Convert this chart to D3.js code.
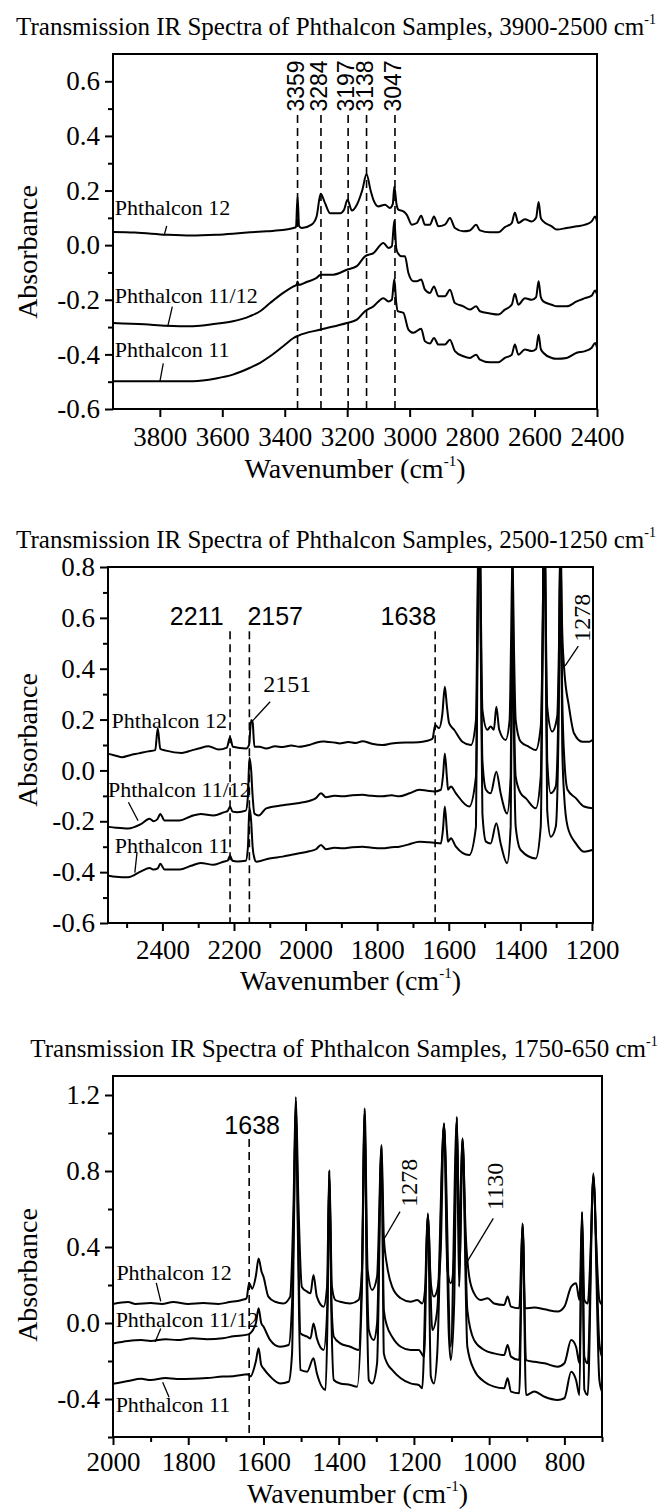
<!DOCTYPE html>
<html><head><meta charset="utf-8">
<script src="https://cdn.jsdelivr.net/npm/d3@7"></script>
<style>body{margin:0;background:#fff}svg{display:block}</style>
</head><body>
<svg id="chart" width="670" height="1510"></svg>
<script>
// ---------------- DATA ----------------
const sampleNames = ["Phthalcon 12", "Phthalcon 11/12", "Phthalcon 11"];
const titles = [
  "Transmission IR Spectra of Phthalcon Samples, 3900-2500 cm",
  "Transmission IR Spectra of Phthalcon Samples, 2500-1250 cm",
  "Transmission IR Spectra of Phthalcon Samples, 1750-650 cm"
];

// Panel 1 ticks
const p1XTicks = [3800, 3600, 3400, 3200, 3000, 2800, 2600, 2400];
const p1XMinor = [];
const p1YTicks = [-0.6, -0.4, -0.2, 0.0, 0.2, 0.4, 0.6];
const p1YMinor = [-0.5, -0.3, -0.1, 0.1, 0.3, 0.5];
// Panel 2 ticks
const p2XTicks = [2400, 2200, 2000, 1800, 1600, 1400, 1200];
const p2XMinor = [2500, 2300, 2100, 1900, 1700, 1500, 1300];
const p2YTicks = [-0.6, -0.4, -0.2, 0.0, 0.2, 0.4, 0.6, 0.8];
const p2YMinor = [-0.5, -0.3, -0.1, 0.1, 0.3, 0.5, 0.7];
// Panel 3 ticks
const p3XTicks = [2000, 1800, 1600, 1400, 1200, 1000, 800];
const p3XMinor = [1900, 1700, 1500, 1300, 1100, 900, 700];
const p3YTicks = [-0.4, 0.0, 0.4, 0.8, 1.2];
const p3YMinor = [-0.6, -0.2, 0.2, 0.6, 1.0];

// marked band positions (cm-1)
const p1Peaks = [3359, 3284, 3197, 3138, 3047];
const p2Peaks = [2211, 2157, 1638];
const p3Peaks = [1638];

// Panel 1 spectra [wavenumber, absorbance]
const p1_ph12 = [[3950,0.048],[3880,0.046],[3778,0.038],[3700,0.035],[3620,0.038],[3566,0.042],[3511,0.047],[3458,0.051],[3400,0.056],[3372,0.063],[3364,0.066],[3359,0.178],[3354,0.07],[3345,0.063],[3314,0.075],[3298,0.105],[3285,0.188],[3271,0.154],[3255,0.117],[3223,0.117],[3210,0.13],[3199,0.166],[3185,0.127],[3169,0.148],[3152,0.2],[3138,0.26],[3125,0.2],[3116,0.166],[3100,0.142],[3079,0.148],[3063,0.136],[3054,0.15],[3049,0.215],[3042,0.15],[3036,0.13],[3020,0.124],[3009,0.111],[2993,0.075],[2977,0.081],[2963,0.108],[2951,0.075],[2935,0.075],[2922,0.105],[2908,0.069],[2887,0.075],[2871,0.099],[2855,0.063],[2828,0.051],[2807,0.054],[2787,0.075],[2775,0.054],[2743,0.047],[2716,0.047],[2695,0.066],[2673,0.081],[2663,0.12],[2652,0.081],[2631,0.095],[2609,0.087],[2595,0.1],[2587,0.158],[2580,0.1],[2572,0.087],[2545,0.069],[2529,0.057],[2497,0.063],[2465,0.069],[2438,0.075],[2417,0.087],[2406,0.105],[2400,0.087]];
const p1_ph1112 = [[3950,-0.285],[3850,-0.29],[3778,-0.295],[3694,-0.297],[3620,-0.288],[3566,-0.279],[3511,-0.26],[3479,-0.242],[3447,-0.212],[3405,-0.175],[3372,-0.151],[3362,-0.145],[3359,-0.133],[3355,-0.146],[3330,-0.135],[3298,-0.12],[3285,-0.108],[3244,-0.108],[3201,-0.09],[3169,-0.077],[3143,-0.041],[3116,-0.029],[3084,0.008],[3068,-0.01],[3057,-0.004],[3049,0.09],[3043,-0.01],[3038,-0.029],[3025,-0.041],[3015,-0.041],[3004,-0.102],[2988,-0.132],[2977,-0.132],[2963,-0.126],[2951,-0.163],[2935,-0.175],[2922,-0.151],[2908,-0.187],[2887,-0.187],[2871,-0.163],[2855,-0.212],[2828,-0.224],[2807,-0.236],[2787,-0.224],[2775,-0.242],[2743,-0.25],[2716,-0.254],[2695,-0.236],[2673,-0.218],[2663,-0.178],[2652,-0.218],[2631,-0.194],[2609,-0.2],[2595,-0.19],[2587,-0.132],[2580,-0.19],[2572,-0.206],[2545,-0.218],[2529,-0.224],[2497,-0.224],[2465,-0.206],[2438,-0.194],[2417,-0.185],[2406,-0.166],[2400,-0.181]];
const p1_ph11 = [[3950,-0.498],[3850,-0.498],[3694,-0.498],[3620,-0.488],[3566,-0.474],[3511,-0.449],[3479,-0.431],[3447,-0.407],[3405,-0.37],[3372,-0.34],[3356,-0.331],[3285,-0.309],[3201,-0.285],[3169,-0.273],[3143,-0.242],[3116,-0.224],[3084,-0.194],[3068,-0.206],[3057,-0.2],[3049,-0.124],[3043,-0.21],[3038,-0.242],[3020,-0.248],[3004,-0.309],[2988,-0.321],[2963,-0.306],[2951,-0.352],[2935,-0.36],[2922,-0.34],[2908,-0.364],[2887,-0.364],[2871,-0.346],[2855,-0.388],[2828,-0.407],[2807,-0.413],[2787,-0.401],[2775,-0.419],[2743,-0.429],[2716,-0.429],[2695,-0.413],[2673,-0.401],[2663,-0.364],[2652,-0.401],[2631,-0.382],[2609,-0.388],[2595,-0.38],[2587,-0.328],[2580,-0.38],[2572,-0.394],[2545,-0.413],[2529,-0.416],[2497,-0.413],[2465,-0.394],[2438,-0.388],[2417,-0.376],[2406,-0.358],[2400,-0.376]];

// Panel 2 spectra
const p2_ph12 = [[2550,0.065],[2530,0.058],[2513,0.052],[2490,0.06],[2466,0.067],[2440,0.075],[2420,0.08],[2413,0.166],[2406,0.085],[2390,0.078],[2346,0.069],[2320,0.078],[2299,0.086],[2271,0.095],[2243,0.082],[2220,0.09],[2211,0.13],[2203,0.093],[2166,0.086],[2158,0.1],[2152,0.198],[2148,0.19],[2143,0.093],[2129,0.093],[2110,0.086],[2085,0.095],[2064,0.092],[2040,0.098],[2017,0.093],[1990,0.1],[1971,0.109],[1952,0.114],[1943,0.113],[1915,0.109],[1906,0.106],[1880,0.112],[1860,0.108],[1841,0.115],[1815,0.105],[1785,0.1],[1760,0.106],[1738,0.109],[1700,0.11],[1673,0.113],[1652,0.12],[1645,0.126],[1638,0.179],[1627,0.166],[1618,0.22],[1611,0.329],[1605,0.25],[1599,0.186],[1585,0.16],[1562,0.113],[1538,0.1],[1524,0.198],[1520,0.6],[1515,1.19],[1510,0.6],[1506,0.238],[1492,0.16],[1483,0.173],[1474,0.16],[1467,0.25],[1459,0.16],[1441,0.12],[1430,0.198],[1426,0.5],[1422,0.85],[1418,0.5],[1413,0.198],[1399,0.113],[1376,0.093],[1357,0.08],[1343,0.173],[1338,0.5],[1333,1.13],[1328,0.5],[1325,0.25],[1311,0.153],[1297,0.212],[1292,0.5],[1288,0.94],[1283,0.55],[1278,0.408],[1264,0.25],[1250,0.146],[1227,0.113],[1208,0.113],[1199,0.12]];
const p2_ph1112 = [[2550,-0.222],[2530,-0.225],[2496,-0.228],[2460,-0.211],[2436,-0.19],[2424,-0.2],[2413,-0.19],[2406,-0.171],[2394,-0.197],[2352,-0.197],[2320,-0.18],[2293,-0.171],[2257,-0.177],[2227,-0.164],[2218,-0.16],[2211,-0.143],[2204,-0.162],[2191,-0.164],[2167,-0.158],[2161,-0.1],[2157,0.05],[2152,0.0],[2148,-0.1],[2143,-0.169],[2131,-0.177],[2110,-0.149],[2064,-0.137],[2017,-0.128],[1990,-0.12],[1971,-0.109],[1957,-0.09],[1943,-0.105],[1920,-0.1],[1896,-0.102],[1870,-0.098],[1841,-0.096],[1815,-0.1],[1785,-0.102],[1760,-0.098],[1738,-0.102],[1710,-0.09],[1682,-0.076],[1660,-0.08],[1641,-0.083],[1622,-0.076],[1616,-0.02],[1611,0.067],[1605,-0.03],[1602,-0.076],[1594,-0.063],[1580,-0.09],[1543,-0.142],[1524,-0.024],[1520,0.5],[1515,1.15],[1510,0.5],[1506,0.041],[1496,-0.076],[1483,-0.09],[1467,-0.005],[1455,-0.09],[1437,-0.169],[1427,-0.024],[1424,0.4],[1422,0.83],[1419,0.4],[1413,-0.024],[1399,-0.09],[1385,-0.109],[1357,-0.149],[1343,-0.024],[1338,0.5],[1333,1.1],[1328,0.4],[1325,0.041],[1315,-0.09],[1301,-0.063],[1292,0.4],[1288,0.92],[1283,0.3],[1278,0.067],[1268,-0.076],[1245,-0.109],[1222,-0.142],[1199,-0.149]];
const p2_ph11 = [[2550,-0.414],[2530,-0.418],[2496,-0.42],[2460,-0.397],[2436,-0.384],[2424,-0.39],[2413,-0.385],[2406,-0.367],[2394,-0.39],[2352,-0.39],[2320,-0.375],[2293,-0.364],[2257,-0.371],[2227,-0.358],[2218,-0.355],[2211,-0.336],[2204,-0.355],[2191,-0.358],[2167,-0.355],[2161,-0.3],[2157,-0.145],[2152,-0.2],[2148,-0.3],[2143,-0.345],[2138,-0.359],[2101,-0.346],[2064,-0.339],[2017,-0.326],[1990,-0.318],[1971,-0.31],[1957,-0.293],[1943,-0.31],[1920,-0.304],[1896,-0.306],[1870,-0.302],[1841,-0.3],[1815,-0.304],[1785,-0.306],[1760,-0.302],[1738,-0.3],[1710,-0.29],[1682,-0.28],[1660,-0.282],[1641,-0.284],[1622,-0.287],[1616,-0.23],[1611,-0.142],[1605,-0.24],[1602,-0.28],[1594,-0.267],[1580,-0.3],[1543,-0.333],[1524,-0.221],[1520,0.4],[1515,1.1],[1510,0.4],[1506,-0.169],[1496,-0.28],[1483,-0.287],[1467,-0.208],[1455,-0.287],[1437,-0.365],[1427,-0.221],[1424,0.3],[1422,0.8],[1419,0.3],[1413,-0.221],[1399,-0.313],[1357,-0.346],[1343,-0.221],[1338,0.4],[1333,1.05],[1328,0.3],[1325,-0.156],[1315,-0.261],[1301,-0.221],[1292,0.3],[1288,0.9],[1283,0.1],[1278,-0.09],[1268,-0.221],[1245,-0.287],[1222,-0.32],[1199,-0.313]];

// Panel 3 spectra
const p3_ph12 = [[2000,0.1],[1960,0.11],[1940,0.1],[1900,0.105],[1870,0.1],[1840,0.11],[1800,0.1],[1760,0.105],[1720,0.1],[1690,0.11],[1660,0.12],[1645,0.13],[1638,0.21],[1630,0.18],[1620,0.25],[1613,0.34],[1605,0.27],[1600,0.244],[1587,0.139],[1569,0.112],[1547,0.103],[1529,0.139],[1520,0.63],[1514,1.19],[1507,0.63],[1498,0.19],[1484,0.165],[1475,0.156],[1467,0.253],[1458,0.139],[1440,0.086],[1431,0.191],[1425,0.805],[1418,0.191],[1409,0.121],[1396,0.112],[1369,0.103],[1347,0.121],[1338,0.279],[1331,1.13],[1323,0.279],[1311,0.174],[1298,0.244],[1286,0.937],[1280,0.454],[1271,0.297],[1258,0.191],[1235,0.13],[1209,0.112],[1191,0.121],[1178,0.103],[1169,0.209],[1163,0.577],[1155,0.209],[1147,0.139],[1138,0.174],[1129,0.367],[1120,1.05],[1111,0.279],[1102,0.209],[1093,0.349],[1086,1.086],[1080,0.454],[1071,0.972],[1062,0.454],[1053,0.244],[1040,0.156],[1022,0.121],[1004,0.13],[987,0.103],[960,0.095],[951,0.139],[942,0.086],[920,0.077],[911,0.525],[905,0.077],[880,0.082],[853,0.072],[818,0.06],[800,0.086],[782,0.191],[769,0.209],[760,0.121],[753,0.586],[747,0.121],[738,0.103],[729,0.454],[723,0.788],[716,0.454],[707,0.121],[700,0.095]];
const p3_ph1112 = [[2000,-0.108],[1960,-0.095],[1925,-0.09],[1900,-0.095],[1860,-0.085],[1830,-0.09],[1788,-0.08],[1750,-0.085],[1708,-0.08],[1680,-0.07],[1640,-0.06],[1635,-0.054],[1620,0.0],[1613,0.077],[1606,0.0],[1600,-0.019],[1582,-0.09],[1556,-0.125],[1533,-0.116],[1524,0.103],[1519,0.6],[1514,1.17],[1508,0.5],[1502,-0.054],[1484,-0.072],[1475,-0.081],[1467,-0.002],[1458,-0.081],[1440,-0.142],[1430,0.1],[1425,0.8],[1419,0.1],[1413,-0.072],[1396,-0.107],[1369,-0.125],[1347,-0.142],[1338,0.3],[1331,1.12],[1325,0.3],[1320,-0.037],[1307,-0.09],[1298,-0.002],[1286,0.93],[1280,0.068],[1271,-0.019],[1258,-0.072],[1235,-0.125],[1209,-0.142],[1187,-0.142],[1173,-0.177],[1163,0.57],[1151,-0.037],[1138,0.068],[1120,1.05],[1107,-0.072],[1102,-0.195],[1093,0.103],[1086,1.08],[1080,0.191],[1071,0.97],[1058,0.068],[1040,-0.09],[1013,-0.142],[987,-0.16],[960,-0.169],[951,-0.116],[942,-0.177],[920,-0.195],[911,0.52],[902,-0.195],[880,-0.204],[853,-0.212],[818,-0.23],[800,-0.212],[782,-0.09],[769,-0.125],[760,-0.212],[753,0.58],[747,-0.177],[738,-0.212],[723,0.78],[707,-0.107],[700,-0.177]];
const p3_ph11 = [[2000,-0.32],[1960,-0.305],[1925,-0.294],[1900,-0.3],[1860,-0.29],[1830,-0.295],[1788,-0.294],[1750,-0.29],[1708,-0.282],[1680,-0.28],[1640,-0.27],[1635,-0.282],[1620,-0.2],[1613,-0.133],[1606,-0.22],[1600,-0.239],[1582,-0.282],[1556,-0.318],[1533,-0.309],[1524,-0.16],[1519,0.5],[1514,1.15],[1508,0.4],[1502,-0.247],[1484,-0.256],[1467,-0.186],[1458,-0.265],[1435,-0.352],[1430,0.0],[1425,0.79],[1419,0.0],[1413,-0.3],[1396,-0.318],[1369,-0.326],[1351,-0.335],[1338,0.2],[1331,1.1],[1325,0.1],[1320,-0.3],[1311,-0.318],[1298,-0.212],[1286,0.92],[1280,-0.16],[1271,-0.212],[1258,-0.247],[1235,-0.291],[1209,-0.318],[1187,-0.326],[1178,-0.344],[1163,0.56],[1155,-0.282],[1147,-0.318],[1138,-0.16],[1120,1.04],[1102,-0.125],[1086,1.07],[1078,0.3],[1071,0.96],[1058,-0.125],[1040,-0.247],[1013,-0.309],[987,-0.335],[960,-0.344],[951,-0.291],[942,-0.361],[920,-0.37],[911,0.51],[902,-0.379],[880,-0.361],[853,-0.388],[818,-0.405],[800,-0.396],[782,-0.256],[769,-0.3],[760,-0.379],[753,0.57],[747,-0.35],[738,-0.379],[723,0.77],[707,-0.3],[700,-0.361]];

// ---------------- LAYOUT / ANNOTATIONS ----------------
const SERIF = "'Liberation Serif', 'Times New Roman', serif";
const SANS = "'Liberation Sans', Arial, sans-serif";
const svg = d3.select("#chart");

const panels = [
  { id: 1, title: titles[0], titleX: 336,
    left: 113, right: 597, top: 54, bottom: 409, xTitleDy: 69, xPad: 10,
    xDomain: [3950, 2400], yDomain: [-0.6, 0.7],
    xTicks: p1XTicks, xMinor: p1XMinor, yTicks: p1YTicks, yMinor: p1YMinor,
    series: [p1_ph12, p1_ph1112, p1_ph11],
    absY: 252,
    peaks: p1Peaks, dashTop: 0.477,
    peakLabels: p1Peaks.map(p => ({ text: String(p), wn: p, val: 0.489, rot: true, dx: 6, anchor: "start", font: SANS, size: 23 })),
    names: [[3944, 0.110], [3944, -0.213], [3944, -0.411]],
    leaders: [[3778,0.070,3786,0.037],[3760,-0.225,3775,-0.299],[3789,-0.433,3800,-0.5]],
    extra: []
  },
  { id: 2, title: titles[1], titleX: 336,
    left: 108, right: 593, top: 567, bottom: 923, xTitleDy: 67, xPad: 9,
    xDomain: [2552, 1197], yDomain: [-0.6, 0.8],
    xTicks: p2XTicks, xMinor: p2XMinor, yTicks: p2YTicks, yMinor: p2YMinor,
    series: [p2_ph12, p2_ph1112, p2_ph11],
    absY: 740,
    peaks: p2Peaks, dashTop: 0.547,
    peakLabels: [
      { text: "2211", wn: 2211, val: 0.572, rot: false, dx: -6.5, anchor: "end", font: SANS, size: 25 },
      { text: "2157", wn: 2157, val: 0.572, rot: false, dx: -2, anchor: "start", font: SANS, size: 25 },
      { text: "1638", wn: 1638, val: 0.572, rot: false, dx: 1, anchor: "end", font: SANS, size: 25 }
    ],
    names: [[2542, 0.165], [2552, -0.105], [2533, -0.323]],
    leaders: [[2495,-0.125,2468,-0.198],[2471,-0.323,2477,-0.402],[2099,0.270,2150,0.192],[1238,0.489,1275,0.411]],
    extra: [
      { text: "2151", wn: 2118, val: 0.31, rot: false },
      { text: "1278", wn: 1205, val: 0.506, rot: true }
    ]
  },
  { id: 3, title: titles[2], titleX: 344,
    left: 113, right: 602, top: 1076, bottom: 1437, xTitleDy: 66, xPad: 7,
    xDomain: [2000, 700], yDomain: [-0.6, 1.3],
    xTicks: p3XTicks, xMinor: p3XMinor, yTicks: p3YTicks, yMinor: p3YMinor,
    series: [p3_ph12, p3_ph1112, p3_ph11],
    absY: 1275,
    peaks: p3Peaks, dashTop: 0.968,
    peakLabels: [
      { text: "1638", wn: 1638, val: 0.997, rot: false, dx: 3, anchor: "middle", font: SANS, size: 25 }
    ],
    names: [[1991, 0.226], [1993, -0.021], [1993, -0.468]],
    leaders: [[1885,0.211,1873,0.114],[1873,-0.029,1888,-0.1],[1851,-0.391,1868,-0.312],[1237,0.586,1281,0.437],[989,0.551,1064,0.305]],
    extra: [
      { text: "1278", wn: 1193, val: 0.612, rot: true },
      { text: "1130", wn: 962, val: 0.595, rot: true }
    ]
  }
];

function styleAxis(sel, size) {
  sel.select(".domain").remove();
  sel.attr("font-family", null).attr("font-size", null);
  sel.selectAll(".tick line").attr("stroke", "#000").attr("stroke-width", 2);
  sel.selectAll(".tick text").attr("fill", "#000")
    .style("font-family", SERIF).style("font-size", size + "px");
}

panels.forEach(c => {
  const x = d3.scaleLinear().domain(c.xDomain).range([c.left, c.right]);
  const y = d3.scaleLinear().domain(c.yDomain).range([c.bottom, c.top]);
  const g = svg.append("g");
  const clipId = "clip" + c.id;
  svg.append("clipPath").attr("id", clipId).append("rect")
    .attr("x", c.left).attr("y", c.top).attr("width", c.right - c.left).attr("height", c.bottom - c.top);

  // title
  const t = g.append("text").attr("x", c.titleX).attr("y", c.top - 19)
    .attr("text-anchor", "middle").style("font-family", SERIF).style("font-size", "25px").attr("fill", "#000")
    .text(c.title);
  t.append("tspan").style("font-size", "14px").attr("dy", -11).text("-1");

  // axes
  g.append("g").attr("transform", `translate(0,${c.bottom})`)
    .call(d3.axisBottom(x).tickValues(c.xTicks).tickSize(8).tickPadding(c.xPad).tickFormat(d3.format("d")))
    .call(s => styleAxis(s, 27));
  if (c.xMinor.length)
    g.append("g").attr("transform", `translate(0,${c.bottom})`)
      .call(d3.axisBottom(x).tickValues(c.xMinor).tickSize(5).tickFormat(""))
      .call(s => styleAxis(s, 27));
  g.append("g").attr("transform", `translate(${c.left},0)`)
    .call(d3.axisLeft(y).tickValues(c.yTicks).tickSize(8).tickPadding(5).tickFormat(d => d.toFixed(1)))
    .call(s => styleAxis(s, 27));
  g.append("g").attr("transform", `translate(${c.left},0)`)
    .call(d3.axisLeft(y).tickValues(c.yMinor).tickSize(5).tickFormat(""))
    .call(s => styleAxis(s, 27));

  // axis titles
  const xt = g.append("text").attr("x", (c.left + c.right) / 2).attr("y", c.bottom + c.xTitleDy)
    .attr("text-anchor", "middle").style("font-family", SERIF).style("font-size", "28px").attr("fill", "#000")
    .text("Wavenumber (cm");
  xt.append("tspan").style("font-size", "15px").attr("dy", -12).text("-1");
  xt.append("tspan").attr("dy", 12).text(")");
  g.append("text").attr("transform", `translate(37,${c.absY}) rotate(-90)`)
    .attr("text-anchor", "middle").style("font-family", SERIF).style("font-size", "28px").attr("fill", "#000")
    .text("Absorbance");

  // sample names
  c.names.forEach((n, i) => {
    g.append("text").attr("x", x(n[0])).attr("y", y(n[1]))
      .style("font-family", SERIF).style("font-size", "22px").attr("fill", "#000").text(sampleNames[i]);
  });

  // dashed marker lines
  c.peaks.forEach(p => {
    g.append("line").attr("x1", x(p)).attr("x2", x(p)).attr("y1", y(c.dashTop)).attr("y2", c.bottom)
      .attr("stroke", "#000").attr("stroke-width", 1.6).attr("stroke-dasharray", "8,5");
  });
  c.peakLabels.forEach(l => {
    const tx = g.append("text").style("font-family", l.font).style("font-size", l.size + "px")
      .attr("fill", "#000").attr("text-anchor", l.anchor).text(l.text);
    if (l.rot) tx.attr("transform", `translate(${x(l.wn) + l.dx},${y(l.val)}) rotate(-90)`);
    else tx.attr("x", x(l.wn) + l.dx).attr("y", y(l.val));
  });

  // spectra
  const line = d3.line().x(d => x(d[0])).y(d => y(d[1])).curve(d3.curveMonotoneX);
  c.series.forEach(s => {
    g.append("path").attr("d", line(s)).attr("fill", "none").attr("stroke", "#000")
      .attr("stroke-width", 2).attr("stroke-linejoin", "round").attr("clip-path", `url(#${clipId})`);
  });

  // leaders
  c.leaders.forEach(l => {
    g.append("line").attr("x1", x(l[0])).attr("y1", y(l[1])).attr("x2", x(l[2])).attr("y2", y(l[3]))
      .attr("stroke", "#000").attr("stroke-width", 1.3);
  });
  // extra serif labels
  c.extra.forEach(e => {
    const tx = g.append("text").style("font-family", SERIF).style("font-size", "24px").attr("fill", "#000").text(e.text);
    if (e.rot) tx.attr("transform", `translate(${x(e.wn)},${y(e.val)}) rotate(-90)`);
    else tx.attr("x", x(e.wn)).attr("y", y(e.val));
  });

  // frame
  g.append("rect").attr("x", c.left).attr("y", c.top).attr("width", c.right - c.left).attr("height", c.bottom - c.top)
    .attr("fill", "none").attr("stroke", "#000").attr("stroke-width", 2);
});
</script>
</body></html>
